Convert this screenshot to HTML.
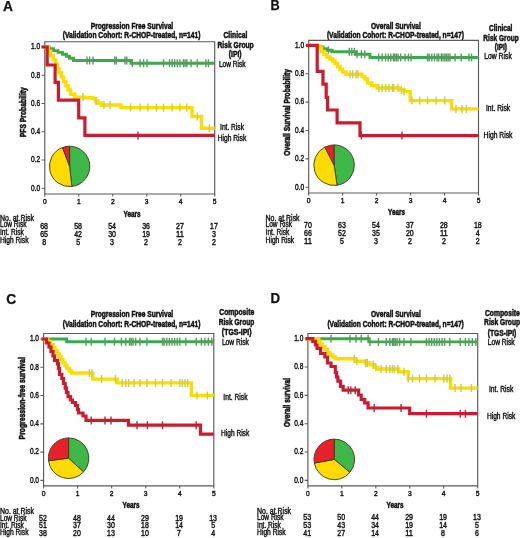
<!DOCTYPE html>
<html><head><meta charset="utf-8"><title>Survival curves</title>
<style>html,body{margin:0;padding:0;background:#fff;width:520px;height:538px;overflow:hidden}</style>
</head><body><div style="width:520px;height:538px">
<svg width="520" height="538" viewBox="0 0 520 538" style="display:block;will-change:transform">
<rect width="520" height="538" fill="#fff"/>
<g font-family='"Liberation Sans", sans-serif' fill="#111">
<text x="3.00" y="11.40" font-size="14" font-weight="bold" stroke="#111" stroke-width="0.25" textLength="10.00" lengthAdjust="spacingAndGlyphs" >A</text>
<text x="270.60" y="10.20" font-size="14" font-weight="bold" stroke="#111" stroke-width="0.25" textLength="9.20" lengthAdjust="spacingAndGlyphs" >B</text>
<text x="6.20" y="303.50" font-size="14" font-weight="bold" stroke="#111" stroke-width="0.25" textLength="10.00" lengthAdjust="spacingAndGlyphs" >C</text>
<text x="270.60" y="303.20" font-size="14" font-weight="bold" stroke="#111" stroke-width="0.25" textLength="9.60" lengthAdjust="spacingAndGlyphs" >D</text>
<text x="90.70" y="28.50" font-size="8.5" font-weight="bold" stroke="#111" stroke-width="0.5" textLength="82.50" lengthAdjust="spacingAndGlyphs" >Progression Free Survival</text>
<text x="62.70" y="38.00" font-size="8.5" font-weight="bold" stroke="#111" stroke-width="0.5" textLength="137.70" lengthAdjust="spacingAndGlyphs" >(Validation Cohort: R-CHOP-treated, n=141)</text>
<text x="235.40" y="38.20" font-size="8.5" font-weight="bold" stroke="#111" stroke-width="0.5" text-anchor="middle" textLength="23.80" lengthAdjust="spacingAndGlyphs" >Clinical</text>
<text x="235.60" y="47.80" font-size="8.5" font-weight="bold" stroke="#111" stroke-width="0.5" text-anchor="middle" textLength="36.20" lengthAdjust="spacingAndGlyphs" >Risk Group</text>
<text x="235.20" y="57.30" font-size="8.5" font-weight="bold" stroke="#111" stroke-width="0.5" text-anchor="middle" textLength="12.70" lengthAdjust="spacingAndGlyphs" >(IPI)</text>
<text x="232.30" y="66.80" font-size="8.5" stroke="#111" stroke-width="0.42" text-anchor="middle" textLength="26.70" lengthAdjust="spacingAndGlyphs" >Low Risk</text>
<text x="232.00" y="129.60" font-size="8.5" stroke="#111" stroke-width="0.42" text-anchor="middle" textLength="23.90" lengthAdjust="spacingAndGlyphs" >Int. Risk</text>
<text x="232.00" y="140.60" font-size="8.5" stroke="#111" stroke-width="0.42" text-anchor="middle" textLength="28.50" lengthAdjust="spacingAndGlyphs" >High Risk</text>
<text transform="translate(26.0,137.2) rotate(-90)" font-size="8.5" font-weight="bold" stroke="#111" stroke-width="0.55" textLength="50" lengthAdjust="spacingAndGlyphs">PFS Probability</text>
<path d="M44.8,41.7 H214.7 V194.0 H44.8 Z" fill="none" stroke="#5a5a5a" stroke-width="1.15"/>
<path d="M41.60,188.30 H44.8 M41.60,160.04 H44.8 M41.60,131.78 H44.8 M41.60,103.52 H44.8 M41.60,75.26 H44.8 M41.60,47.00 H44.8 M44.80,194.0 V196.60 M78.78,194.0 V196.60 M112.76,194.0 V196.60 M146.74,194.0 V196.60 M180.72,194.0 V196.60 M214.70,194.0 V196.60 " stroke="#5a5a5a" stroke-width="1.1" fill="none"/>
<text x="40.20" y="190.60" font-size="8.5" stroke="#111" stroke-width="0.42" text-anchor="end" textLength="9.10" lengthAdjust="spacingAndGlyphs" >0.0</text>
<text x="40.20" y="162.34" font-size="8.5" stroke="#111" stroke-width="0.42" text-anchor="end" textLength="9.10" lengthAdjust="spacingAndGlyphs" >0.2</text>
<text x="40.20" y="134.08" font-size="8.5" stroke="#111" stroke-width="0.42" text-anchor="end" textLength="9.10" lengthAdjust="spacingAndGlyphs" >0.4</text>
<text x="40.20" y="105.82" font-size="8.5" stroke="#111" stroke-width="0.42" text-anchor="end" textLength="9.10" lengthAdjust="spacingAndGlyphs" >0.6</text>
<text x="40.20" y="77.56" font-size="8.5" stroke="#111" stroke-width="0.42" text-anchor="end" textLength="9.10" lengthAdjust="spacingAndGlyphs" >0.8</text>
<text x="40.20" y="49.30" font-size="8.5" stroke="#111" stroke-width="0.42" text-anchor="end" textLength="9.10" lengthAdjust="spacingAndGlyphs" >1.0</text>
<text x="44.80" y="204.10" font-size="7.8" stroke="#111" stroke-width="0.42" text-anchor="middle" transform-origin="44.80 194.00" style="transform:scaleX(0.86)">0</text>
<text x="78.78" y="204.10" font-size="7.8" stroke="#111" stroke-width="0.42" text-anchor="middle" transform-origin="78.78 194.00" style="transform:scaleX(0.86)">1</text>
<text x="112.76" y="204.10" font-size="7.8" stroke="#111" stroke-width="0.42" text-anchor="middle" transform-origin="112.76 194.00" style="transform:scaleX(0.86)">2</text>
<text x="146.74" y="204.10" font-size="7.8" stroke="#111" stroke-width="0.42" text-anchor="middle" transform-origin="146.74 194.00" style="transform:scaleX(0.86)">3</text>
<text x="180.72" y="204.10" font-size="7.8" stroke="#111" stroke-width="0.42" text-anchor="middle" transform-origin="180.72 194.00" style="transform:scaleX(0.86)">4</text>
<text x="214.70" y="204.10" font-size="7.8" stroke="#111" stroke-width="0.42" text-anchor="middle" transform-origin="214.70 194.00" style="transform:scaleX(0.86)">5</text>
<path d="M69.60,166.40 L69.60,146.20 A20.2,20.2 0 0 1 71.85,186.47 Z" fill="#3fb84a" stroke="#3a3a1a" stroke-width="0.9" stroke-linejoin="round"/>
<path d="M69.60,166.40 L71.85,186.47 A20.2,20.2 0 0 1 62.55,147.47 Z" fill="#ffdb00" stroke="#3a3a1a" stroke-width="0.9" stroke-linejoin="round"/>
<path d="M69.60,166.40 L62.55,147.47 A20.2,20.2 0 0 1 69.60,146.20 Z" fill="#e8202c" stroke="#3a3a1a" stroke-width="0.9" stroke-linejoin="round"/>
<path d="M42.50,47.00 H49.00 V48.80 H53.50 V50.60 H58.00 V52.40 H62.50 V54.30 H66.50 V56.20 H69.50 V58.20 H73.50 V60.50 H131.00 V63.20 H214.70" fill="none" stroke="#3aab4a" stroke-width="2.9" stroke-linejoin="miter" stroke-linecap="butt"/>
<path d="M87.00,56.50 V64.50 M89.60,56.50 V64.50 M93.00,56.50 V64.50 M114.70,56.50 V64.50 M116.40,56.50 V64.50 M125.00,56.50 V64.50 M126.80,56.50 V64.50 M132.30,59.20 V67.20 M140.10,59.20 V67.20 M143.60,59.20 V67.20 M147.00,59.20 V67.20 M163.50,59.20 V67.20 M169.50,59.20 V67.20 M172.10,59.20 V67.20 M174.70,59.20 V67.20 M177.30,59.20 V67.20 M179.90,59.20 V67.20 M183.40,59.20 V67.20 M185.10,59.20 V67.20 M186.80,59.20 V67.20 M191.10,59.20 V67.20 M197.20,59.20 V67.20 M205.90,59.20 V67.20 M208.40,59.20 V67.20 " stroke="#5a9a60" stroke-width="1.4" fill="none"/>
<path d="M42.50,47.00 H48.17 V51.30 H50.70 V55.60 H53.30 V59.90 H55.68 V64.20 H57.38 V68.50 H59.09 V72.80 H61.38 V77.10 H63.51 V81.40 H65.89 V85.70 H68.08 V90.00 H70.58 V94.30 H74.80 V97.10 H84.70 V97.80 H92.80 V98.60 H95.60 V101.00 H98.00 V103.00 H101.00 V105.00 H121.00 V107.60 H192.00 V116.50 H201.50 V128.20 H214.70" fill="none" stroke="#fcdd00" stroke-width="3.4" stroke-linejoin="miter" stroke-linecap="butt"/>
<path d="M83.00,93.10 V101.10 M96.00,97.00 V105.00 M104.00,101.00 V109.00 M110.00,101.00 V109.00 M130.60,103.60 V111.60 M140.10,103.60 V111.60 M147.90,103.60 V111.60 M156.50,103.60 V111.60 M163.50,103.60 V111.60 M172.10,103.60 V111.60 M179.90,103.60 V111.60 M186.80,103.60 V111.60 M197.20,112.50 V120.50 M209.30,124.20 V132.20 " stroke="#c8cc50" stroke-width="1.4" fill="none"/>
<path d="M41.50,47.00 H47.20 V65.00 H55.10 V82.40 H58.40 V100.20 H78.70 V117.90 H84.90 V135.40 H214.70" fill="none" stroke="#cc1a2e" stroke-width="3.2" stroke-linejoin="miter" stroke-linecap="butt"/>
<path d="M138.00,131.40 V139.40 " stroke="#b02a3a" stroke-width="1.4" fill="none"/>
<text x="371.00" y="28.50" font-size="8.5" font-weight="bold" stroke="#111" stroke-width="0.5" textLength="49.80" lengthAdjust="spacingAndGlyphs" >Overall Survival</text>
<text x="326.90" y="38.00" font-size="8.5" font-weight="bold" stroke="#111" stroke-width="0.5" textLength="137.00" lengthAdjust="spacingAndGlyphs" >(Validation Cohort: R-CHOP-treated, n=147)</text>
<text x="500.70" y="30.90" font-size="8.5" font-weight="bold" stroke="#111" stroke-width="0.5" text-anchor="middle" textLength="23.30" lengthAdjust="spacingAndGlyphs" >Clinical</text>
<text x="501.00" y="40.50" font-size="8.5" font-weight="bold" stroke="#111" stroke-width="0.5" text-anchor="middle" textLength="35.30" lengthAdjust="spacingAndGlyphs" >Risk Group</text>
<text x="500.90" y="50.10" font-size="8.5" font-weight="bold" stroke="#111" stroke-width="0.5" text-anchor="middle" textLength="12.20" lengthAdjust="spacingAndGlyphs" >(IPI)</text>
<text x="498.00" y="59.40" font-size="8.5" stroke="#111" stroke-width="0.42" text-anchor="middle" textLength="27.60" lengthAdjust="spacingAndGlyphs" >Low Risk</text>
<text x="498.10" y="111.30" font-size="8.5" stroke="#111" stroke-width="0.42" text-anchor="middle" textLength="24.20" lengthAdjust="spacingAndGlyphs" >Int. Risk</text>
<text x="498.00" y="137.90" font-size="8.5" stroke="#111" stroke-width="0.42" text-anchor="middle" textLength="28.90" lengthAdjust="spacingAndGlyphs" >High Risk</text>
<text transform="translate(290.0,155.7) rotate(-90)" font-size="8.5" font-weight="bold" stroke="#111" stroke-width="0.55" textLength="86.7" lengthAdjust="spacingAndGlyphs">Overall Survival Probability</text>
<path d="M308.7,40.3 H478.5 V193.0 H308.7 Z" fill="none" stroke="#5a5a5a" stroke-width="1.15"/>
<path d="M305.50,187.30 H308.7 M305.50,158.92 H308.7 M305.50,130.54 H308.7 M305.50,102.16 H308.7 M305.50,73.78 H308.7 M305.50,45.40 H308.7 M308.70,193.0 V195.60 M342.66,193.0 V195.60 M376.62,193.0 V195.60 M410.58,193.0 V195.60 M444.54,193.0 V195.60 M478.50,193.0 V195.60 " stroke="#5a5a5a" stroke-width="1.1" fill="none"/>
<text x="304.10" y="189.60" font-size="8.5" stroke="#111" stroke-width="0.42" text-anchor="end" textLength="9.10" lengthAdjust="spacingAndGlyphs" >0.0</text>
<text x="304.10" y="161.22" font-size="8.5" stroke="#111" stroke-width="0.42" text-anchor="end" textLength="9.10" lengthAdjust="spacingAndGlyphs" >0.2</text>
<text x="304.10" y="132.84" font-size="8.5" stroke="#111" stroke-width="0.42" text-anchor="end" textLength="9.10" lengthAdjust="spacingAndGlyphs" >0.4</text>
<text x="304.10" y="104.46" font-size="8.5" stroke="#111" stroke-width="0.42" text-anchor="end" textLength="9.10" lengthAdjust="spacingAndGlyphs" >0.6</text>
<text x="304.10" y="76.08" font-size="8.5" stroke="#111" stroke-width="0.42" text-anchor="end" textLength="9.10" lengthAdjust="spacingAndGlyphs" >0.8</text>
<text x="304.10" y="47.70" font-size="8.5" stroke="#111" stroke-width="0.42" text-anchor="end" textLength="9.10" lengthAdjust="spacingAndGlyphs" >1.0</text>
<text x="308.70" y="203.10" font-size="7.8" stroke="#111" stroke-width="0.42" text-anchor="middle" transform-origin="308.70 193.00" style="transform:scaleX(0.86)">0</text>
<text x="342.66" y="203.10" font-size="7.8" stroke="#111" stroke-width="0.42" text-anchor="middle" transform-origin="342.66 193.00" style="transform:scaleX(0.86)">1</text>
<text x="376.62" y="203.10" font-size="7.8" stroke="#111" stroke-width="0.42" text-anchor="middle" transform-origin="376.62 193.00" style="transform:scaleX(0.86)">2</text>
<text x="410.58" y="203.10" font-size="7.8" stroke="#111" stroke-width="0.42" text-anchor="middle" transform-origin="410.58 193.00" style="transform:scaleX(0.86)">3</text>
<text x="444.54" y="203.10" font-size="7.8" stroke="#111" stroke-width="0.42" text-anchor="middle" transform-origin="444.54 193.00" style="transform:scaleX(0.86)">4</text>
<text x="478.50" y="203.10" font-size="7.8" stroke="#111" stroke-width="0.42" text-anchor="middle" transform-origin="478.50 193.00" style="transform:scaleX(0.86)">5</text>
<path d="M334.10,165.20 L334.10,144.90 A20.3,20.3 0 0 1 337.13,185.27 Z" fill="#3fb84a" stroke="#3a3a1a" stroke-width="0.9" stroke-linejoin="round"/>
<path d="M334.10,165.20 L337.13,185.27 A20.3,20.3 0 0 1 324.90,147.10 Z" fill="#ffdb00" stroke="#3a3a1a" stroke-width="0.9" stroke-linejoin="round"/>
<path d="M334.10,165.20 L324.90,147.10 A20.3,20.3 0 0 1 334.10,144.90 Z" fill="#e8202c" stroke="#3a3a1a" stroke-width="0.9" stroke-linejoin="round"/>
<path d="M306.50,45.40 H318.00 V47.00 H323.00 V48.60 H327.00 V50.20 H332.00 V51.80 H356.20 V54.20 H370.00 V57.50 H478.50" fill="none" stroke="#3aab4a" stroke-width="2.9" stroke-linejoin="miter" stroke-linecap="butt"/>
<path d="M328.50,46.20 V54.20 M349.30,47.80 V55.80 M351.80,47.80 V55.80 M354.40,47.80 V55.80 M357.00,50.20 V58.20 M361.40,50.20 V58.20 M364.80,50.20 V58.20 M378.70,53.50 V61.50 M382.10,53.50 V61.50 M385.60,53.50 V61.50 M388.20,53.50 V61.50 M390.80,53.50 V61.50 M393.40,53.50 V61.50 M394.60,53.50 V61.50 M396.30,53.50 V61.50 M398.00,53.50 V61.50 M400.70,53.50 V61.50 M405.00,53.50 V61.50 M408.40,53.50 V61.50 M411.00,53.50 V61.50 M427.50,53.50 V61.50 M429.20,53.50 V61.50 M431.80,53.50 V61.50 M434.40,53.50 V61.50 M437.00,53.50 V61.50 M438.70,53.50 V61.50 M441.30,53.50 V61.50 M443.00,53.50 V61.50 M444.80,53.50 V61.50 M446.50,53.50 V61.50 M448.20,53.50 V61.50 M450.00,53.50 V61.50 M455.10,53.50 V61.50 M461.20,53.50 V61.50 M469.00,53.50 V61.50 M471.60,53.50 V61.50 " stroke="#5a9a60" stroke-width="1.4" fill="none"/>
<path d="M306.50,45.40 H319.00 V48.00 H321.60 V51.50 H324.00 V54.50 H327.00 V57.00 H330.00 V59.00 H332.50 V61.00 H335.00 V63.50 H337.50 V66.50 H340.00 V69.50 H342.50 V72.00 H346.00 V74.30 H362.00 V76.50 H364.80 V79.00 H367.40 V83.00 H371.70 V85.60 H377.00 V88.00 H399.80 V89.90 H404.10 V91.60 H410.20 V100.60 H451.70 V108.90 H478.50" fill="none" stroke="#fcdd00" stroke-width="3.4" stroke-linejoin="miter" stroke-linecap="butt"/>
<path d="M350.10,70.30 V78.30 M352.70,70.30 V78.30 M356.20,70.30 V78.30 M357.90,70.30 V78.30 M378.70,84.00 V92.00 M382.10,84.00 V92.00 M385.60,84.00 V92.00 M389.00,84.00 V92.00 M392.50,84.00 V92.00 M393.70,84.00 V92.00 M398.00,84.00 V92.00 M401.50,85.90 V93.90 M404.10,87.60 V95.60 M411.90,96.60 V104.60 M419.70,96.60 V104.60 M427.50,96.60 V104.60 M436.10,96.60 V104.60 M444.80,96.60 V104.60 M456.00,104.90 V112.90 M462.00,104.90 V112.90 M466.40,104.90 V112.90 " stroke="#c8cc50" stroke-width="1.4" fill="none"/>
<path d="M306.00,45.40 H317.20 V71.40 H323.00 V84.20 H326.20 V97.30 H327.60 V110.00 H337.10 V122.80 H360.00 V135.60 H478.50" fill="none" stroke="#cc1a2e" stroke-width="3.2" stroke-linejoin="miter" stroke-linecap="butt"/>
<path d="M361.40,131.60 V139.60 M402.00,131.60 V139.60 " stroke="#b02a3a" stroke-width="1.4" fill="none"/>
<text x="90.70" y="317.40" font-size="8.5" font-weight="bold" stroke="#111" stroke-width="0.5" textLength="82.50" lengthAdjust="spacingAndGlyphs" >Progression Free Survival</text>
<text x="62.70" y="326.90" font-size="8.5" font-weight="bold" stroke="#111" stroke-width="0.5" textLength="137.70" lengthAdjust="spacingAndGlyphs" >(Validation Cohort: R-CHOP-treated, n=141)</text>
<text x="236.70" y="315.30" font-size="8.5" font-weight="bold" stroke="#111" stroke-width="0.5" text-anchor="middle" textLength="34.90" lengthAdjust="spacingAndGlyphs" >Composite</text>
<text x="236.50" y="325.40" font-size="8.5" font-weight="bold" stroke="#111" stroke-width="0.5" text-anchor="middle" textLength="35.40" lengthAdjust="spacingAndGlyphs" >Risk Group</text>
<text x="236.70" y="334.70" font-size="8.5" font-weight="bold" stroke="#111" stroke-width="0.5" text-anchor="middle" textLength="29.70" lengthAdjust="spacingAndGlyphs" >(TGS-IPI)</text>
<text x="235.40" y="344.90" font-size="8.5" stroke="#111" stroke-width="0.42" text-anchor="middle" textLength="27.00" lengthAdjust="spacingAndGlyphs" >Low Risk</text>
<text x="235.40" y="399.80" font-size="8.5" stroke="#111" stroke-width="0.42" text-anchor="middle" textLength="24.20" lengthAdjust="spacingAndGlyphs" >Int. Risk</text>
<text x="235.10" y="436.30" font-size="8.5" stroke="#111" stroke-width="0.42" text-anchor="middle" textLength="28.20" lengthAdjust="spacingAndGlyphs" >High Risk</text>
<text transform="translate(25.2,439.4) rotate(-90)" font-size="8.5" font-weight="bold" stroke="#111" stroke-width="0.55" textLength="82.2" lengthAdjust="spacingAndGlyphs">Progression-free survival</text>
<path d="M43.6,333.5 H213.8 V485.8 H43.6 Z" fill="none" stroke="#5a5a5a" stroke-width="1.15"/>
<path d="M40.40,480.40 H43.6 M40.40,452.12 H43.6 M40.40,423.84 H43.6 M40.40,395.56 H43.6 M40.40,367.28 H43.6 M40.40,339.00 H43.6 M43.60,485.8 V488.40 M77.64,485.8 V488.40 M111.68,485.8 V488.40 M145.72,485.8 V488.40 M179.76,485.8 V488.40 M213.80,485.8 V488.40 " stroke="#5a5a5a" stroke-width="1.1" fill="none"/>
<text x="39.00" y="482.70" font-size="8.5" stroke="#111" stroke-width="0.42" text-anchor="end" textLength="9.10" lengthAdjust="spacingAndGlyphs" >0.0</text>
<text x="39.00" y="454.42" font-size="8.5" stroke="#111" stroke-width="0.42" text-anchor="end" textLength="9.10" lengthAdjust="spacingAndGlyphs" >0.2</text>
<text x="39.00" y="426.14" font-size="8.5" stroke="#111" stroke-width="0.42" text-anchor="end" textLength="9.10" lengthAdjust="spacingAndGlyphs" >0.4</text>
<text x="39.00" y="397.86" font-size="8.5" stroke="#111" stroke-width="0.42" text-anchor="end" textLength="9.10" lengthAdjust="spacingAndGlyphs" >0.6</text>
<text x="39.00" y="369.58" font-size="8.5" stroke="#111" stroke-width="0.42" text-anchor="end" textLength="9.10" lengthAdjust="spacingAndGlyphs" >0.8</text>
<text x="39.00" y="341.30" font-size="8.5" stroke="#111" stroke-width="0.42" text-anchor="end" textLength="9.10" lengthAdjust="spacingAndGlyphs" >1.0</text>
<text x="43.60" y="495.90" font-size="7.8" stroke="#111" stroke-width="0.42" text-anchor="middle" transform-origin="43.60 485.80" style="transform:scaleX(0.86)">0</text>
<text x="77.64" y="495.90" font-size="7.8" stroke="#111" stroke-width="0.42" text-anchor="middle" transform-origin="77.64 485.80" style="transform:scaleX(0.86)">1</text>
<text x="111.68" y="495.90" font-size="7.8" stroke="#111" stroke-width="0.42" text-anchor="middle" transform-origin="111.68 485.80" style="transform:scaleX(0.86)">2</text>
<text x="145.72" y="495.90" font-size="7.8" stroke="#111" stroke-width="0.42" text-anchor="middle" transform-origin="145.72 485.80" style="transform:scaleX(0.86)">3</text>
<text x="179.76" y="495.90" font-size="7.8" stroke="#111" stroke-width="0.42" text-anchor="middle" transform-origin="179.76 485.80" style="transform:scaleX(0.86)">4</text>
<text x="213.80" y="495.90" font-size="7.8" stroke="#111" stroke-width="0.42" text-anchor="middle" transform-origin="213.80 485.80" style="transform:scaleX(0.86)">5</text>
<path d="M68.60,458.20 L68.60,437.90 A20.3,20.3 0 0 1 83.50,471.98 Z" fill="#3fb84a" stroke="#3a3a1a" stroke-width="0.9" stroke-linejoin="round"/>
<path d="M68.60,458.20 L83.50,471.98 A20.3,20.3 0 0 1 48.45,460.68 Z" fill="#ffdb00" stroke="#3a3a1a" stroke-width="0.9" stroke-linejoin="round"/>
<path d="M68.60,458.20 L48.45,460.68 A20.3,20.3 0 0 1 68.60,437.90 Z" fill="#e8202c" stroke="#3a3a1a" stroke-width="0.9" stroke-linejoin="round"/>
<path d="M41.50,339.00 H66.60 V341.70 H213.80" fill="none" stroke="#3aab4a" stroke-width="2.9" stroke-linejoin="miter" stroke-linecap="butt"/>
<path d="M86.00,337.70 V345.70 M91.20,337.70 V345.70 M105.00,337.70 V345.70 M114.50,337.70 V345.70 M121.40,337.70 V345.70 M125.80,337.70 V345.70 M129.60,337.70 V345.70 M131.30,337.70 V345.70 M133.10,337.70 V345.70 M135.70,337.70 V345.70 M140.00,337.70 V345.70 M146.90,337.70 V345.70 M162.50,337.70 V345.70 M164.20,337.70 V345.70 M166.80,337.70 V345.70 M169.40,337.70 V345.70 M172.00,337.70 V345.70 M174.60,337.70 V345.70 M177.20,337.70 V345.70 M179.80,337.70 V345.70 M185.80,337.70 V345.70 M196.20,337.70 V345.70 M201.40,337.70 V345.70 M204.90,337.70 V345.70 M208.30,337.70 V345.70 M211.80,337.70 V345.70 " stroke="#5a9a60" stroke-width="1.4" fill="none"/>
<path d="M41.50,339.00 H48.00 V341.50 H50.50 V344.50 H53.00 V347.50 H55.00 V350.50 H57.00 V353.50 H59.00 V356.50 H61.00 V359.50 H63.00 V362.50 H65.00 V365.50 H67.00 V368.50 H69.50 V371.00 H71.50 V373.00 H92.90 V379.10 H117.10 V382.90 H191.40 V395.40 H213.80" fill="none" stroke="#fcdd00" stroke-width="3.4" stroke-linejoin="miter" stroke-linecap="butt"/>
<path d="M89.40,369.00 V377.00 M92.00,369.00 V377.00 M101.50,375.10 V383.10 M115.40,375.10 V383.10 M122.30,378.90 V386.90 M125.80,378.90 V386.90 M128.70,378.90 V386.90 M133.90,378.90 V386.90 M140.00,378.90 V386.90 M146.90,378.90 V386.90 M155.50,378.90 V386.90 M162.50,378.90 V386.90 M171.10,378.90 V386.90 M179.80,378.90 V386.90 M182.40,378.90 V386.90 M185.00,378.90 V386.90 M187.60,378.90 V386.90 M197.00,391.40 V399.40 M207.40,391.40 V399.40 " stroke="#c8cc50" stroke-width="1.4" fill="none"/>
<path d="M41.50,339.00 H46.50 V343.00 H49.00 V347.00 H51.00 V351.50 H53.00 V356.00 H54.50 V360.40 H57.40 V363.90 H58.50 V368.50 H59.50 V374.30 H61.80 V378.50 H63.50 V383.50 H65.20 V388.10 H66.50 V392.50 H68.00 V396.70 H70.50 V400.00 H72.50 V402.50 H75.60 V405.50 H77.50 V409.50 H78.50 V413.00 H83.00 V416.00 H86.00 V420.40 H128.40 V425.20 H200.50 V434.20 H213.80" fill="none" stroke="#cc1a2e" stroke-width="3.2" stroke-linejoin="miter" stroke-linecap="butt"/>
<path d="M91.20,416.40 V424.40 M105.00,416.40 V424.40 M111.00,416.40 V424.40 M137.00,421.20 V429.20 M147.40,421.20 V429.20 M162.50,421.20 V429.20 M196.20,421.20 V429.20 " stroke="#b02a3a" stroke-width="1.4" fill="none"/>
<text x="371.00" y="316.90" font-size="8.5" font-weight="bold" stroke="#111" stroke-width="0.5" textLength="49.80" lengthAdjust="spacingAndGlyphs" >Overall Survival</text>
<text x="327.40" y="326.60" font-size="8.5" font-weight="bold" stroke="#111" stroke-width="0.5" textLength="136.40" lengthAdjust="spacingAndGlyphs" >(Validation Cohort: R-CHOP-treated, n=147)</text>
<text x="502.40" y="315.70" font-size="8.5" font-weight="bold" stroke="#111" stroke-width="0.5" text-anchor="middle" textLength="34.90" lengthAdjust="spacingAndGlyphs" >Composite</text>
<text x="502.10" y="325.40" font-size="8.5" font-weight="bold" stroke="#111" stroke-width="0.5" text-anchor="middle" textLength="36.00" lengthAdjust="spacingAndGlyphs" >Risk Group</text>
<text x="502.00" y="336.00" font-size="8.5" font-weight="bold" stroke="#111" stroke-width="0.5" text-anchor="middle" textLength="28.50" lengthAdjust="spacingAndGlyphs" >(TGS-IPI)</text>
<text x="501.20" y="345.00" font-size="8.5" stroke="#111" stroke-width="0.42" text-anchor="middle" textLength="26.90" lengthAdjust="spacingAndGlyphs" >Low Risk</text>
<text x="501.10" y="392.00" font-size="8.5" stroke="#111" stroke-width="0.42" text-anchor="middle" textLength="24.40" lengthAdjust="spacingAndGlyphs" >Int. Risk</text>
<text x="501.10" y="418.70" font-size="8.5" stroke="#111" stroke-width="0.42" text-anchor="middle" textLength="28.40" lengthAdjust="spacingAndGlyphs" >High Risk</text>
<text transform="translate(289.6,426.9) rotate(-90)" font-size="8.5" font-weight="bold" stroke="#111" stroke-width="0.55" textLength="48.9" lengthAdjust="spacingAndGlyphs">Overall survival</text>
<path d="M307.9,333.5 H477.7 V485.8 H307.9 Z" fill="none" stroke="#5a5a5a" stroke-width="1.15"/>
<path d="M304.70,480.40 H307.9 M304.70,452.06 H307.9 M304.70,423.72 H307.9 M304.70,395.38 H307.9 M304.70,367.04 H307.9 M304.70,338.70 H307.9 M307.90,485.8 V488.40 M341.86,485.8 V488.40 M375.82,485.8 V488.40 M409.78,485.8 V488.40 M443.74,485.8 V488.40 M477.70,485.8 V488.40 " stroke="#5a5a5a" stroke-width="1.1" fill="none"/>
<text x="303.30" y="482.70" font-size="8.5" stroke="#111" stroke-width="0.42" text-anchor="end" textLength="9.10" lengthAdjust="spacingAndGlyphs" >0.0</text>
<text x="303.30" y="454.36" font-size="8.5" stroke="#111" stroke-width="0.42" text-anchor="end" textLength="9.10" lengthAdjust="spacingAndGlyphs" >0.2</text>
<text x="303.30" y="426.02" font-size="8.5" stroke="#111" stroke-width="0.42" text-anchor="end" textLength="9.10" lengthAdjust="spacingAndGlyphs" >0.4</text>
<text x="303.30" y="397.68" font-size="8.5" stroke="#111" stroke-width="0.42" text-anchor="end" textLength="9.10" lengthAdjust="spacingAndGlyphs" >0.6</text>
<text x="303.30" y="369.34" font-size="8.5" stroke="#111" stroke-width="0.42" text-anchor="end" textLength="9.10" lengthAdjust="spacingAndGlyphs" >0.8</text>
<text x="303.30" y="341.00" font-size="8.5" stroke="#111" stroke-width="0.42" text-anchor="end" textLength="9.10" lengthAdjust="spacingAndGlyphs" >1.0</text>
<text x="307.90" y="495.90" font-size="7.8" stroke="#111" stroke-width="0.42" text-anchor="middle" transform-origin="307.90 485.80" style="transform:scaleX(0.86)">0</text>
<text x="341.86" y="495.90" font-size="7.8" stroke="#111" stroke-width="0.42" text-anchor="middle" transform-origin="341.86 485.80" style="transform:scaleX(0.86)">1</text>
<text x="375.82" y="495.90" font-size="7.8" stroke="#111" stroke-width="0.42" text-anchor="middle" transform-origin="375.82 485.80" style="transform:scaleX(0.86)">2</text>
<text x="409.78" y="495.90" font-size="7.8" stroke="#111" stroke-width="0.42" text-anchor="middle" transform-origin="409.78 485.80" style="transform:scaleX(0.86)">3</text>
<text x="443.74" y="495.90" font-size="7.8" stroke="#111" stroke-width="0.42" text-anchor="middle" transform-origin="443.74 485.80" style="transform:scaleX(0.86)">4</text>
<text x="477.70" y="495.90" font-size="7.8" stroke="#111" stroke-width="0.42" text-anchor="middle" transform-origin="477.70 485.80" style="transform:scaleX(0.86)">5</text>
<path d="M334.30,459.40 L334.30,439.10 A20.3,20.3 0 0 1 349.90,472.39 Z" fill="#3fb84a" stroke="#3a3a1a" stroke-width="0.9" stroke-linejoin="round"/>
<path d="M334.30,459.40 L349.90,472.39 A20.3,20.3 0 0 1 314.33,463.07 Z" fill="#ffdb00" stroke="#3a3a1a" stroke-width="0.9" stroke-linejoin="round"/>
<path d="M334.30,459.40 L314.33,463.07 A20.3,20.3 0 0 1 334.30,439.10 Z" fill="#e8202c" stroke="#3a3a1a" stroke-width="0.9" stroke-linejoin="round"/>
<path d="M305.50,338.70 H369.00 V341.90 H477.70" fill="none" stroke="#3aab4a" stroke-width="2.9" stroke-linejoin="miter" stroke-linecap="butt"/>
<path d="M331.00,334.70 V342.70 M350.00,334.70 V342.70 M356.00,334.70 V342.70 M361.20,334.70 V342.70 M368.10,334.70 V342.70 M369.90,337.90 V345.90 M378.50,337.90 V345.90 M386.30,337.90 V345.90 M389.80,337.90 V345.90 M392.40,337.90 V345.90 M393.60,337.90 V345.90 M395.30,337.90 V345.90 M397.10,337.90 V345.90 M399.70,337.90 V345.90 M404.00,337.90 V345.90 M410.90,337.90 V345.90 M426.50,337.90 V345.90 M429.10,337.90 V345.90 M431.70,337.90 V345.90 M434.30,337.90 V345.90 M436.80,337.90 V345.90 M439.40,337.90 V345.90 M442.00,337.90 V345.90 M444.60,337.90 V345.90 M449.80,337.90 V345.90 M460.20,337.90 V345.90 M465.40,337.90 V345.90 M468.90,337.90 V345.90 M472.30,337.90 V345.90 M475.80,337.90 V345.90 " stroke="#5a9a60" stroke-width="1.4" fill="none"/>
<path d="M305.50,338.70 H318.80 V341.50 H320.50 V344.00 H322.30 V346.60 H325.00 V349.50 H327.50 V352.60 H330.00 V355.00 H332.70 V357.00 H335.30 V358.70 H355.20 V361.30 H365.60 V363.00 H369.90 V364.70 H374.20 V367.30 H377.70 V369.00 H398.80 V371.70 H408.30 V378.60 H450.70 V388.10 H477.70" fill="none" stroke="#fcdd00" stroke-width="3.4" stroke-linejoin="miter" stroke-linecap="butt"/>
<path d="M354.30,354.70 V362.70 M356.90,357.30 V365.30 M365.60,359.00 V367.00 M367.30,359.00 V367.00 M373.30,360.70 V368.70 M375.90,363.30 V371.30 M381.10,365.00 V373.00 M386.30,365.00 V373.00 M389.80,365.00 V373.00 M392.40,365.00 V373.00 M394.50,365.00 V373.00 M397.90,365.00 V373.00 M404.00,367.70 V375.70 M408.30,374.60 V382.60 M412.60,374.60 V382.60 M419.50,374.60 V382.60 M426.50,374.60 V382.60 M435.10,374.60 V382.60 M443.80,374.60 V382.60 M447.20,374.60 V382.60 M449.80,374.60 V382.60 M455.00,384.10 V392.10 M461.00,384.10 V392.10 M471.40,384.10 V392.10 " stroke="#c8cc50" stroke-width="1.4" fill="none"/>
<path d="M305.50,338.70 H312.80 V341.40 H315.50 V345.00 H317.10 V348.30 H320.60 V353.50 H324.90 V357.00 H327.50 V363.00 H331.00 V366.50 H335.30 V372.50 H336.60 V377.00 H337.90 V381.20 H340.50 V386.40 H343.10 V390.20 H358.60 V395.00 H361.20 V399.30 H364.70 V402.80 H368.10 V408.00 H409.70 V413.70 H477.70" fill="none" stroke="#cc1a2e" stroke-width="3.2" stroke-linejoin="miter" stroke-linecap="butt"/>
<path d="M348.30,386.20 V394.20 M350.80,386.20 V394.20 M355.20,386.20 V394.20 M374.20,404.00 V412.00 M401.00,404.00 V412.00 M426.50,409.70 V417.70 M460.20,409.70 V417.70 M465.40,409.70 V417.70 " stroke="#b02a3a" stroke-width="1.4" fill="none"/>
<text x="132.10" y="216.70" font-size="8.5" font-weight="bold" stroke="#111" stroke-width="0.5" text-anchor="middle" textLength="17.00" lengthAdjust="spacingAndGlyphs" >Years</text>
<text x="0.00" y="220.80" font-size="8.5" stroke="#111" stroke-width="0.42" textLength="34.00" lengthAdjust="spacingAndGlyphs" >No. at Risk</text>
<text x="0.00" y="227.30" font-size="8.5" stroke="#111" stroke-width="0.42" textLength="26.50" lengthAdjust="spacingAndGlyphs" >Low Risk</text>
<text x="44.10" y="229.00" font-size="8.5" stroke="#111" stroke-width="0.42" text-anchor="middle" textLength="7.80" lengthAdjust="spacingAndGlyphs" >68</text>
<text x="78.08" y="229.00" font-size="8.5" stroke="#111" stroke-width="0.42" text-anchor="middle" textLength="7.80" lengthAdjust="spacingAndGlyphs" >58</text>
<text x="112.06" y="229.00" font-size="8.5" stroke="#111" stroke-width="0.42" text-anchor="middle" textLength="7.80" lengthAdjust="spacingAndGlyphs" >54</text>
<text x="146.04" y="229.00" font-size="8.5" stroke="#111" stroke-width="0.42" text-anchor="middle" textLength="7.80" lengthAdjust="spacingAndGlyphs" >36</text>
<text x="180.02" y="229.00" font-size="8.5" stroke="#111" stroke-width="0.42" text-anchor="middle" textLength="7.80" lengthAdjust="spacingAndGlyphs" >27</text>
<text x="214.00" y="229.00" font-size="8.5" stroke="#111" stroke-width="0.42" text-anchor="middle" textLength="7.80" lengthAdjust="spacingAndGlyphs" >17</text>
<text x="0.00" y="235.10" font-size="8.5" stroke="#111" stroke-width="0.42" textLength="23.80" lengthAdjust="spacingAndGlyphs" >Int. Risk</text>
<text x="44.10" y="236.80" font-size="8.5" stroke="#111" stroke-width="0.42" text-anchor="middle" textLength="7.80" lengthAdjust="spacingAndGlyphs" >65</text>
<text x="78.08" y="236.80" font-size="8.5" stroke="#111" stroke-width="0.42" text-anchor="middle" textLength="7.80" lengthAdjust="spacingAndGlyphs" >42</text>
<text x="112.06" y="236.80" font-size="8.5" stroke="#111" stroke-width="0.42" text-anchor="middle" textLength="7.80" lengthAdjust="spacingAndGlyphs" >30</text>
<text x="146.04" y="236.80" font-size="8.5" stroke="#111" stroke-width="0.42" text-anchor="middle" textLength="7.80" lengthAdjust="spacingAndGlyphs" >19</text>
<text x="180.02" y="236.80" font-size="8.5" stroke="#111" stroke-width="0.42" text-anchor="middle" textLength="7.80" lengthAdjust="spacingAndGlyphs" >11</text>
<text x="214.00" y="236.80" font-size="8.5" stroke="#111" stroke-width="0.42" text-anchor="middle" textLength="3.90" lengthAdjust="spacingAndGlyphs" >3</text>
<text x="0.00" y="242.60" font-size="8.5" stroke="#111" stroke-width="0.42" textLength="28.50" lengthAdjust="spacingAndGlyphs" >High Risk</text>
<text x="44.10" y="244.60" font-size="8.5" stroke="#111" stroke-width="0.42" text-anchor="middle" textLength="3.90" lengthAdjust="spacingAndGlyphs" >8</text>
<text x="78.08" y="244.60" font-size="8.5" stroke="#111" stroke-width="0.42" text-anchor="middle" textLength="3.90" lengthAdjust="spacingAndGlyphs" >5</text>
<text x="112.06" y="244.60" font-size="8.5" stroke="#111" stroke-width="0.42" text-anchor="middle" textLength="3.90" lengthAdjust="spacingAndGlyphs" >3</text>
<text x="146.04" y="244.60" font-size="8.5" stroke="#111" stroke-width="0.42" text-anchor="middle" textLength="3.90" lengthAdjust="spacingAndGlyphs" >2</text>
<text x="180.02" y="244.60" font-size="8.5" stroke="#111" stroke-width="0.42" text-anchor="middle" textLength="3.90" lengthAdjust="spacingAndGlyphs" >2</text>
<text x="214.00" y="244.60" font-size="8.5" stroke="#111" stroke-width="0.42" text-anchor="middle" textLength="3.90" lengthAdjust="spacingAndGlyphs" >2</text>
<text x="396.50" y="215.20" font-size="8.5" font-weight="bold" stroke="#111" stroke-width="0.5" text-anchor="middle" textLength="17.00" lengthAdjust="spacingAndGlyphs" >Years</text>
<text x="265.60" y="220.80" font-size="8.5" stroke="#111" stroke-width="0.42" textLength="34.00" lengthAdjust="spacingAndGlyphs" >No. at Risk</text>
<text x="265.60" y="227.20" font-size="8.5" stroke="#111" stroke-width="0.42" textLength="26.50" lengthAdjust="spacingAndGlyphs" >Low Risk</text>
<text x="308.00" y="227.90" font-size="8.5" stroke="#111" stroke-width="0.42" text-anchor="middle" textLength="7.80" lengthAdjust="spacingAndGlyphs" >70</text>
<text x="341.96" y="227.90" font-size="8.5" stroke="#111" stroke-width="0.42" text-anchor="middle" textLength="7.80" lengthAdjust="spacingAndGlyphs" >63</text>
<text x="375.92" y="227.90" font-size="8.5" stroke="#111" stroke-width="0.42" text-anchor="middle" textLength="7.80" lengthAdjust="spacingAndGlyphs" >54</text>
<text x="409.88" y="227.90" font-size="8.5" stroke="#111" stroke-width="0.42" text-anchor="middle" textLength="7.80" lengthAdjust="spacingAndGlyphs" >37</text>
<text x="443.84" y="227.90" font-size="8.5" stroke="#111" stroke-width="0.42" text-anchor="middle" textLength="7.80" lengthAdjust="spacingAndGlyphs" >28</text>
<text x="477.80" y="227.90" font-size="8.5" stroke="#111" stroke-width="0.42" text-anchor="middle" textLength="7.80" lengthAdjust="spacingAndGlyphs" >18</text>
<text x="265.60" y="234.90" font-size="8.5" stroke="#111" stroke-width="0.42" textLength="23.80" lengthAdjust="spacingAndGlyphs" >Int. Risk</text>
<text x="308.00" y="235.70" font-size="8.5" stroke="#111" stroke-width="0.42" text-anchor="middle" textLength="7.80" lengthAdjust="spacingAndGlyphs" >66</text>
<text x="341.96" y="235.70" font-size="8.5" stroke="#111" stroke-width="0.42" text-anchor="middle" textLength="7.80" lengthAdjust="spacingAndGlyphs" >52</text>
<text x="375.92" y="235.70" font-size="8.5" stroke="#111" stroke-width="0.42" text-anchor="middle" textLength="7.80" lengthAdjust="spacingAndGlyphs" >35</text>
<text x="409.88" y="235.70" font-size="8.5" stroke="#111" stroke-width="0.42" text-anchor="middle" textLength="7.80" lengthAdjust="spacingAndGlyphs" >20</text>
<text x="443.84" y="235.70" font-size="8.5" stroke="#111" stroke-width="0.42" text-anchor="middle" textLength="7.80" lengthAdjust="spacingAndGlyphs" >11</text>
<text x="477.80" y="235.70" font-size="8.5" stroke="#111" stroke-width="0.42" text-anchor="middle" textLength="3.90" lengthAdjust="spacingAndGlyphs" >4</text>
<text x="265.60" y="242.60" font-size="8.5" stroke="#111" stroke-width="0.42" textLength="28.50" lengthAdjust="spacingAndGlyphs" >High Risk</text>
<text x="308.00" y="243.50" font-size="8.5" stroke="#111" stroke-width="0.42" text-anchor="middle" textLength="7.80" lengthAdjust="spacingAndGlyphs" >11</text>
<text x="341.96" y="243.50" font-size="8.5" stroke="#111" stroke-width="0.42" text-anchor="middle" textLength="3.90" lengthAdjust="spacingAndGlyphs" >5</text>
<text x="375.92" y="243.50" font-size="8.5" stroke="#111" stroke-width="0.42" text-anchor="middle" textLength="3.90" lengthAdjust="spacingAndGlyphs" >3</text>
<text x="409.88" y="243.50" font-size="8.5" stroke="#111" stroke-width="0.42" text-anchor="middle" textLength="3.90" lengthAdjust="spacingAndGlyphs" >2</text>
<text x="443.84" y="243.50" font-size="8.5" stroke="#111" stroke-width="0.42" text-anchor="middle" textLength="3.90" lengthAdjust="spacingAndGlyphs" >2</text>
<text x="477.80" y="243.50" font-size="8.5" stroke="#111" stroke-width="0.42" text-anchor="middle" textLength="3.90" lengthAdjust="spacingAndGlyphs" >2</text>
<text x="131.10" y="507.90" font-size="8.5" font-weight="bold" stroke="#111" stroke-width="0.5" text-anchor="middle" textLength="17.00" lengthAdjust="spacingAndGlyphs" >Years</text>
<text x="0.00" y="514.00" font-size="8.5" stroke="#111" stroke-width="0.42" textLength="34.00" lengthAdjust="spacingAndGlyphs" >No. at Risk</text>
<text x="0.00" y="520.50" font-size="8.5" stroke="#111" stroke-width="0.42" textLength="26.50" lengthAdjust="spacingAndGlyphs" >Low Risk</text>
<text x="42.90" y="520.60" font-size="8.5" stroke="#111" stroke-width="0.42" text-anchor="middle" textLength="7.80" lengthAdjust="spacingAndGlyphs" >52</text>
<text x="76.94" y="520.60" font-size="8.5" stroke="#111" stroke-width="0.42" text-anchor="middle" textLength="7.80" lengthAdjust="spacingAndGlyphs" >48</text>
<text x="110.98" y="520.60" font-size="8.5" stroke="#111" stroke-width="0.42" text-anchor="middle" textLength="7.80" lengthAdjust="spacingAndGlyphs" >44</text>
<text x="145.02" y="520.60" font-size="8.5" stroke="#111" stroke-width="0.42" text-anchor="middle" textLength="7.80" lengthAdjust="spacingAndGlyphs" >29</text>
<text x="179.06" y="520.60" font-size="8.5" stroke="#111" stroke-width="0.42" text-anchor="middle" textLength="7.80" lengthAdjust="spacingAndGlyphs" >19</text>
<text x="213.10" y="520.60" font-size="8.5" stroke="#111" stroke-width="0.42" text-anchor="middle" textLength="7.80" lengthAdjust="spacingAndGlyphs" >13</text>
<text x="0.00" y="527.90" font-size="8.5" stroke="#111" stroke-width="0.42" textLength="23.80" lengthAdjust="spacingAndGlyphs" >Int. Risk</text>
<text x="42.90" y="528.30" font-size="8.5" stroke="#111" stroke-width="0.42" text-anchor="middle" textLength="7.80" lengthAdjust="spacingAndGlyphs" >51</text>
<text x="76.94" y="528.30" font-size="8.5" stroke="#111" stroke-width="0.42" text-anchor="middle" textLength="7.80" lengthAdjust="spacingAndGlyphs" >37</text>
<text x="110.98" y="528.30" font-size="8.5" stroke="#111" stroke-width="0.42" text-anchor="middle" textLength="7.80" lengthAdjust="spacingAndGlyphs" >30</text>
<text x="145.02" y="528.30" font-size="8.5" stroke="#111" stroke-width="0.42" text-anchor="middle" textLength="7.80" lengthAdjust="spacingAndGlyphs" >18</text>
<text x="179.06" y="528.30" font-size="8.5" stroke="#111" stroke-width="0.42" text-anchor="middle" textLength="7.80" lengthAdjust="spacingAndGlyphs" >14</text>
<text x="213.10" y="528.30" font-size="8.5" stroke="#111" stroke-width="0.42" text-anchor="middle" textLength="3.90" lengthAdjust="spacingAndGlyphs" >5</text>
<text x="0.00" y="535.20" font-size="8.5" stroke="#111" stroke-width="0.42" textLength="28.50" lengthAdjust="spacingAndGlyphs" >High Risk</text>
<text x="42.90" y="536.00" font-size="8.5" stroke="#111" stroke-width="0.42" text-anchor="middle" textLength="7.80" lengthAdjust="spacingAndGlyphs" >38</text>
<text x="76.94" y="536.00" font-size="8.5" stroke="#111" stroke-width="0.42" text-anchor="middle" textLength="7.80" lengthAdjust="spacingAndGlyphs" >20</text>
<text x="110.98" y="536.00" font-size="8.5" stroke="#111" stroke-width="0.42" text-anchor="middle" textLength="7.80" lengthAdjust="spacingAndGlyphs" >13</text>
<text x="145.02" y="536.00" font-size="8.5" stroke="#111" stroke-width="0.42" text-anchor="middle" textLength="7.80" lengthAdjust="spacingAndGlyphs" >10</text>
<text x="179.06" y="536.00" font-size="8.5" stroke="#111" stroke-width="0.42" text-anchor="middle" textLength="3.90" lengthAdjust="spacingAndGlyphs" >7</text>
<text x="213.10" y="536.00" font-size="8.5" stroke="#111" stroke-width="0.42" text-anchor="middle" textLength="3.90" lengthAdjust="spacingAndGlyphs" >4</text>
<text x="395.10" y="507.90" font-size="8.5" font-weight="bold" stroke="#111" stroke-width="0.5" text-anchor="middle" textLength="17.00" lengthAdjust="spacingAndGlyphs" >Years</text>
<text x="257.10" y="513.50" font-size="8.5" stroke="#111" stroke-width="0.42" textLength="34.00" lengthAdjust="spacingAndGlyphs" >No. at Risk</text>
<text x="257.10" y="520.10" font-size="8.5" stroke="#111" stroke-width="0.42" textLength="26.50" lengthAdjust="spacingAndGlyphs" >Low Risk</text>
<text x="307.20" y="520.30" font-size="8.5" stroke="#111" stroke-width="0.42" text-anchor="middle" textLength="7.80" lengthAdjust="spacingAndGlyphs" >53</text>
<text x="341.16" y="520.30" font-size="8.5" stroke="#111" stroke-width="0.42" text-anchor="middle" textLength="7.80" lengthAdjust="spacingAndGlyphs" >50</text>
<text x="375.12" y="520.30" font-size="8.5" stroke="#111" stroke-width="0.42" text-anchor="middle" textLength="7.80" lengthAdjust="spacingAndGlyphs" >44</text>
<text x="409.08" y="520.30" font-size="8.5" stroke="#111" stroke-width="0.42" text-anchor="middle" textLength="7.80" lengthAdjust="spacingAndGlyphs" >29</text>
<text x="443.04" y="520.30" font-size="8.5" stroke="#111" stroke-width="0.42" text-anchor="middle" textLength="7.80" lengthAdjust="spacingAndGlyphs" >19</text>
<text x="477.00" y="520.30" font-size="8.5" stroke="#111" stroke-width="0.42" text-anchor="middle" textLength="7.80" lengthAdjust="spacingAndGlyphs" >13</text>
<text x="257.10" y="527.90" font-size="8.5" stroke="#111" stroke-width="0.42" textLength="23.80" lengthAdjust="spacingAndGlyphs" >Int. Risk</text>
<text x="307.20" y="528.30" font-size="8.5" stroke="#111" stroke-width="0.42" text-anchor="middle" textLength="7.80" lengthAdjust="spacingAndGlyphs" >53</text>
<text x="341.16" y="528.30" font-size="8.5" stroke="#111" stroke-width="0.42" text-anchor="middle" textLength="7.80" lengthAdjust="spacingAndGlyphs" >43</text>
<text x="375.12" y="528.30" font-size="8.5" stroke="#111" stroke-width="0.42" text-anchor="middle" textLength="7.80" lengthAdjust="spacingAndGlyphs" >34</text>
<text x="409.08" y="528.30" font-size="8.5" stroke="#111" stroke-width="0.42" text-anchor="middle" textLength="7.80" lengthAdjust="spacingAndGlyphs" >19</text>
<text x="443.04" y="528.30" font-size="8.5" stroke="#111" stroke-width="0.42" text-anchor="middle" textLength="7.80" lengthAdjust="spacingAndGlyphs" >14</text>
<text x="477.00" y="528.30" font-size="8.5" stroke="#111" stroke-width="0.42" text-anchor="middle" textLength="3.90" lengthAdjust="spacingAndGlyphs" >5</text>
<text x="257.10" y="535.10" font-size="8.5" stroke="#111" stroke-width="0.42" textLength="28.50" lengthAdjust="spacingAndGlyphs" >High Risk</text>
<text x="307.20" y="536.00" font-size="8.5" stroke="#111" stroke-width="0.42" text-anchor="middle" textLength="7.80" lengthAdjust="spacingAndGlyphs" >41</text>
<text x="341.16" y="536.00" font-size="8.5" stroke="#111" stroke-width="0.42" text-anchor="middle" textLength="7.80" lengthAdjust="spacingAndGlyphs" >27</text>
<text x="375.12" y="536.00" font-size="8.5" stroke="#111" stroke-width="0.42" text-anchor="middle" textLength="7.80" lengthAdjust="spacingAndGlyphs" >14</text>
<text x="409.08" y="536.00" font-size="8.5" stroke="#111" stroke-width="0.42" text-anchor="middle" textLength="7.80" lengthAdjust="spacingAndGlyphs" >11</text>
<text x="443.04" y="536.00" font-size="8.5" stroke="#111" stroke-width="0.42" text-anchor="middle" textLength="3.90" lengthAdjust="spacingAndGlyphs" >8</text>
<text x="477.00" y="536.00" font-size="8.5" stroke="#111" stroke-width="0.42" text-anchor="middle" textLength="3.90" lengthAdjust="spacingAndGlyphs" >6</text>
</g></svg>
</div></body></html>
